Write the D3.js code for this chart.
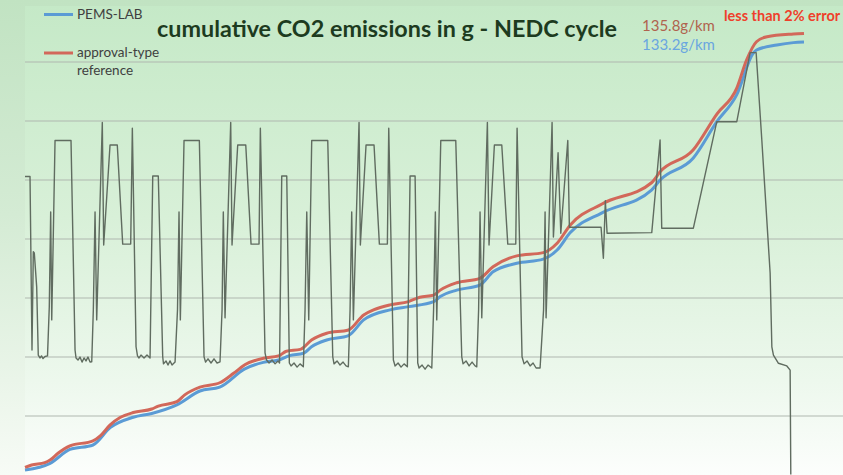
<!DOCTYPE html>
<html>
<head>
<meta charset="utf-8">
<script src="https://cdn.jsdelivr.net/npm/d3@7"></script>
<style>
  html, body { margin: 0; padding: 0; background: #fff; }
  svg { display: block; }
</style>
</head>
<body>
<div id="chart"></div>
<script>
var title = "cumulative CO2 emissions in g - NEDC cycle";
var legendNames = ["PEMS-LAB", "approval-type", "reference"];
var resultLabels = ["135.8g/km", "133.2g/km"];
var errorNote = "less than 2% error";
var gridTicks = [200, 400, 600, 800, 1000, 1200, 1400];

// cumulative CO2, [time s, g]
var approvalRef = [[0,24],[10,32],[30,40],[38,49],[50,72],[68,97],[103,114],[114,131],[129,168],[144,193],[164,210],[192,222],[202,232],[230,247],[242,270],[265,296],[295,311],[316,343],[333,372],[361,394],[384,402],[396,418],[417,424],[434,456],[457,479],[490,490],[513,541],[528,558],[553,575],[581,586],[598,601],[619,608],[629,625],[654,650],[689,665],[709,704],[745,741],[785,752],[806,784],[826,846],[874,917],[949,989],[962,1026],[1012,1100],[1048,1222],[1078,1309],[1093,1405],[1108,1467],[1124,1484],[1164,1493],[1180,1495]];
var pemsLab = [[0,15],[38,38],[68,85],[103,100],[129,159],[164,194],[192,207],[230,236],[265,283],[295,296],[333,358],[361,380],[384,388],[401,403],[422,411],[434,433],[457,456],[490,471],[513,524],[553,558],[581,569],[619,586],[629,603],[654,625],[689,642],[709,687],[745,716],[785,730],[806,761],[826,820],[874,887],[949,964],[962,998],[1012,1072],[1048,1196],[1078,1287],[1103,1428],[1108,1439],[1139,1456],[1164,1464],[1180,1466]];

// NEDC cycle trace (secondary scale), [time s, value]
var cycleTrace = [[0,101],[7.6,101],[10.6,42.2],[12.6,75.5],[14.1,75.1],[17.7,63.6],[20.1,40.5],[22.7,39.5],[25,40.2],[27.3,39.3],[30.3,40],[34.1,40.2],[36.8,56.9],[38.9,89],[40.5,52.4],[45.5,113.2],[69.7,113.2],[75.8,42.2],[77.3,39.5],[80.3,38.8],[83.3,39.8],[86.4,38.1],[89.4,39.5],[92.4,38.5],[95.4,39.8],[98.5,38.1],[101.1,38.2],[103.5,55.8],[106.1,89],[108.6,52.4],[117.1,119.3],[119.2,77.8],[128.8,111.7],[139.8,111.7],[148,78.1],[160.1,78.1],[162.6,117.4],[168.2,43.3],[170.4,40.2],[172.7,39.5],[175.7,40.5],[180.3,39.5],[184.8,40.5],[189.4,39.5],[193.5,101.2],[201.9,101.2],[208.6,39.9],[209.8,37.5],[213.6,38.5],[216.6,37.1],[219.7,38.5],[222.7,37.1],[227.3,38.1],[231,55.8],[233.3,89],[235.3,52.4],[240.9,113.2],[264.1,113.2],[271.2,39.9],[273.5,38.1],[277.2,39.2],[281.8,37.8],[286.3,39.2],[290.9,37.8],[295.4,38.2],[298.5,55.8],[300.4,89],[303,53.1],[311.6,119.3],[313.6,77.8],[322.2,111.7],[334.4,111.7],[342.4,78.1],[354.5,78.1],[356.5,117.4],[363.6,41.2],[365.9,38.8],[369.7,37.8],[374.2,38.8],[378.8,37.5],[383.3,38.5],[385.6,37.8],[388.9,101.2],[396.5,101.2],[400.4,37.8],[403,36.8],[407.5,37.8],[412.1,36.4],[416.6,37.5],[421.6,36.5],[424.2,55.8],[426.8,89],[429.8,52.4],[434.3,113.2],[458.6,113.2],[466.2,39.9],[468.1,37.5],[472.7,38.5],[477.2,37.1],[481.8,38.1],[486.3,36.8],[489.8,36.5],[492.4,55.8],[494.9,89],[497.4,52.4],[506,119.3],[508,77.8],[516.6,111.7],[528.7,111.7],[536.8,78.1],[548.9,78.1],[551,117.4],[558,38.8],[560.6,36.8],[565.1,37.8],[569.6,36.4],[574.2,37.5],[579.2,36.5],[583.3,101.2],[590.9,101.2],[594.9,37.8],[596.9,36.1],[601.5,37.1],[606,35.7],[610.5,37.1],[616.2,36.1],[618.9,55.8],[621.6,89],[623.7,52.4],[629.8,113.2],[652.5,113.2],[661.6,39.9],[663.6,37.5],[668.1,38.5],[672.7,36.8],[677.2,38.1],[681.8,36.8],[684.3,36.5],[687.1,55.8],[689.3,89],[691.9,53.1],[700.4,119.3],[702.9,77.8],[711,111.7],[722.2,111.7],[731.3,78.1],[743.4,78.1],[745.4,117.4],[752.9,39.9],[756,37.5],[760.5,38.5],[765.1,36.8],[769.6,37.8],[774.2,36.1],[780.2,36.1],[785.5,55.8],[787.8,89],[789.3,53.1],[798.4,119.3],[800.4,80.5],[807.5,109.1],[811.6,81.8],[822.2,113.2],[824.6,83.8],[872.6,83.8],[876.1,73.3],[879.1,92.8],[881.7,81.8],[949.4,82],[962,113.4],[964.5,83.5],[1012.4,83.5],[1047.9,119.6],[1078.2,119.6],[1098.4,143],[1107.5,143],[1116.1,113.4],[1128.7,68.3],[1131.3,43.3],[1133.7,40.5],[1141.3,37.7],[1154,36.8],[1159,35.4],[1160,0]];

var width = 843, height = 475;
var plotLeft = 25, plotTop = 6;

var x = d3.scaleLinear().domain([0, 1180]).range([25, 804]);
var y = d3.scaleLinear().domain([0, 1600]).range([474.5, 2.5]);
var yTrace = d3.scaleLinear().domain([0, 160]).range([474.5, 2.5]);

var svg = d3.select("#chart")
  .append("svg")
  .attr("width", width)
  .attr("height", height);

var defs = svg.append("defs");
function vGradient(id, stops) {
  var g = defs.append("linearGradient")
    .attr("id", id)
    .attr("x1", 0).attr("y1", 0).attr("x2", 0).attr("y2", 1);
  stops.forEach(function (s) {
    g.append("stop").attr("offset", s[0]).attr("stop-color", s[1]);
  });
}
vGradient("outerBg", [[0, "#c1e3c2"], [0.45, "#d4ebd4"], [0.8, "#eaf5e9"], [1, "#f7fbf6"]]);
vGradient("plotBg", [[0, "#c5e9c7"], [0.45, "#d8f0d8"], [0.8, "#edf8ed"], [1, "#fcfefc"]]);

svg.append("rect")
  .attr("width", width)
  .attr("height", height)
  .attr("fill", "url(#outerBg)");

svg.append("rect")
  .attr("x", plotLeft)
  .attr("y", plotTop)
  .attr("width", width - plotLeft)
  .attr("height", height - plotTop)
  .attr("fill", "url(#plotBg)");

// gridlines
var grid = svg.append("g")
  .attr("transform", "translate(" + plotLeft + ",0)")
  .call(d3.axisLeft(y).tickValues(gridTicks).tickSize(-(width - plotLeft)).tickFormat(""));
grid.select(".domain").remove();
grid.selectAll(".tick line")
  .attr("stroke", "#b0b7b0")
  .attr("stroke-width", 1.1);

var cumLine = d3.line()
  .x(function (d) { return x(d[0]); })
  .y(function (d) { return y(d[1]); })
  .curve(d3.curveMonotoneX);

svg.append("path")
  .datum(pemsLab)
  .attr("d", cumLine)
  .attr("fill", "none")
  .attr("stroke", "#5b9bd5")
  .attr("stroke-width", 3)
  .attr("stroke-linejoin", "round");

svg.append("path")
  .datum(approvalRef)
  .attr("d", cumLine)
  .attr("fill", "none")
  .attr("stroke", "#d2685a")
  .attr("stroke-width", 3)
  .attr("stroke-linejoin", "round");

var traceLine = d3.line()
  .x(function (d) { return x(d[0]); })
  .y(function (d) { return yTrace(d[1]); });

svg.append("path")
  .datum(cycleTrace)
  .attr("d", traceLine)
  .attr("fill", "none")
  .attr("stroke", "#606c60")
  .attr("stroke-width", 1.4)
  .attr("stroke-linejoin", "round");

// legend
var legend = svg.append("g").attr("font-family", "Lato, 'Open Sans', sans-serif").attr("font-size", 13.5).attr("fill", "#404040");
legend.append("line").attr("x1", 44).attr("x2", 73).attr("y1", 14.5).attr("y2", 14.5)
  .attr("stroke", "#5b9bd5").attr("stroke-width", 3);
legend.append("text").attr("x", 77).attr("y", 19).text(legendNames[0]);
legend.append("line").attr("x1", 44).attr("x2", 73).attr("y1", 53).attr("y2", 53)
  .attr("stroke", "#d2685a").attr("stroke-width", 3);
legend.append("text").attr("x", 77).attr("y", 57).text(legendNames[1]);
legend.append("text").attr("x", 77).attr("y", 75).text(legendNames[2]);

// title
svg.append("text")
  .attr("x", 157)
  .attr("y", 37)
  .attr("font-family", "Lato, 'Open Sans', sans-serif")
  .attr("font-weight", "bold")
  .attr("font-size", 23)
  .attr("fill", "#1d3b1f")
  .attr("textLength", 460)
  .attr("lengthAdjust", "spacingAndGlyphs")
  .text(title);

// results
svg.append("text")
  .attr("x", 642).attr("y", 30.5)
  .attr("font-family", "Lato, 'Open Sans', sans-serif")
  .attr("font-size", 15)
  .attr("fill", "#b0634e")
  .text(resultLabels[0]);
svg.append("text")
  .attr("x", 642).attr("y", 49.5)
  .attr("font-family", "Lato, 'Open Sans', sans-serif")
  .attr("font-size", 15)
  .attr("fill", "#6aa6e0")
  .text(resultLabels[1]);
svg.append("text")
  .attr("x", 724).attr("y", 20.5)
  .attr("font-family", "Lato, 'Open Sans', sans-serif")
  .attr("font-weight", "bold")
  .attr("font-size", 14.5)
  .attr("fill", "#ef3f2b")
  .text(errorNote);
</script>
</body>
</html>
